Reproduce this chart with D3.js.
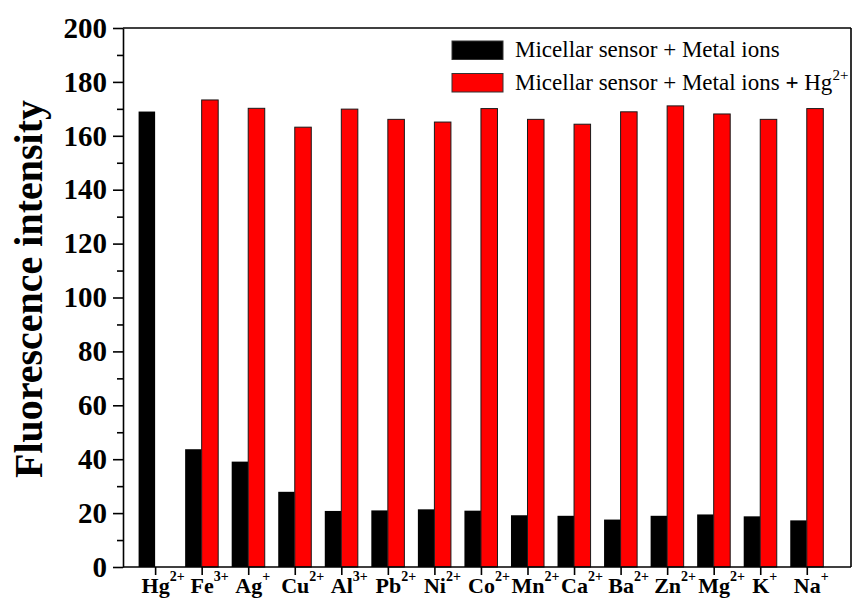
<!DOCTYPE html>
<html>
<head>
<meta charset="utf-8">
<script src="https://cdn.jsdelivr.net/npm/d3@7"></script>
<style>
  body { margin: 0; background: #fff; }
  svg { display: block; font-family: "Liberation Serif", "Times New Roman", serif; }
</style>
</head>
<body>
<div class="canvas"></div>
<script>
const ions = ["Hg", "Fe", "Ag", "Cu", "Al", "Pb", "Ni", "Co", "Mn", "Ca", "Ba", "Zn", "Mg", "K", "Na"];
const charges = ["2+", "3+", "+", "2+", "3+", "2+", "2+", "2+", "2+", "2+", "2+", "2+", "2+", "+", "+"];
const sensorMetal = [169, 43.7, 39.1, 27.9, 20.8, 21.0, 21.4, 20.9, 19.2, 19.0, 17.6, 19.0, 19.5, 18.8, 17.3];
const sensorMetalHg = [null, 173.3, 170.2, 163.2, 169.9, 166.1, 165.1, 170.1, 166.1, 164.3, 168.9, 171.1, 168.1, 166.1, 170.1];
const yTicks = [0, 20, 40, 60, 80, 100, 120, 140, 160, 180, 200];
const seriesNames = ["Micellar sensor + Metal ions", "Micellar sensor + Metal ions"];
const seriesColors = ["#000000", "#ff0000"];

const WIDTH = 852,
  HEIGHT = 601,
  PLOT = { left: 123, right: 851, top: 28, bottom: 567 },
  BAR = 0.355,
  LEGEND = { x: 452, y: 41, swatchW: 51, swatchH: 18.5, row: 32.5 };

let svg, x, y;

document.addEventListener("DOMContentLoaded", function () {
  setSVG();
  setScales();
  drawBars();
  drawAxes();
  drawLegend();
});

function setSVG() {
  svg = d3
    .select(".canvas")
    .append("svg")
    .attr("width", WIDTH)
    .attr("height", HEIGHT);
}

function setScales() {
  x = d3.scaleLinear().domain([0.31, 15.95]).range([PLOT.left, PLOT.right]);
  y = d3.scaleLinear().domain([0, 200]).range([PLOT.bottom, PLOT.top]);
}

function drawBars() {
  const rows = ions.map((ion, i) => ({ pos: i + 1, a: sensorMetal[i], b: sensorMetalHg[i] }));

  svg
    .append("g")
    .selectAll("rect")
    .data(rows)
    .enter()
    .append("rect")
    .attr("x", (d) => x(d.pos - BAR))
    .attr("width", (d) => x(d.pos) - x(d.pos - BAR))
    .attr("y", (d) => y(d.a))
    .attr("height", (d) => y(0) - y(d.a))
    .attr("fill", seriesColors[0]);

  svg
    .append("g")
    .selectAll("rect")
    .data(rows.filter((d) => d.b !== null))
    .enter()
    .append("rect")
    .attr("x", (d) => x(d.pos))
    .attr("width", (d) => x(d.pos + BAR) - x(d.pos))
    .attr("y", (d) => y(d.b))
    .attr("height", (d) => y(0) - y(d.b))
    .attr("fill", seriesColors[1])
    .attr("stroke", "#1a1a1a")
    .attr("stroke-width", 1);
}

function drawAxes() {
  const frame = svg.append("g").attr("fill", "none").attr("stroke", "#000").attr("stroke-width", 1.6);
  frame.append("line").attr("x1", PLOT.left).attr("x2", PLOT.right).attr("y1", PLOT.top).attr("y2", PLOT.top);
  frame.append("line").attr("x1", PLOT.right).attr("x2", PLOT.right).attr("y1", PLOT.top).attr("y2", PLOT.bottom);

  // minor y ticks
  svg
    .append("g")
    .attr("transform", `translate(${PLOT.left},0)`)
    .call(d3.axisLeft(y).tickValues(d3.range(10, 200, 20)).tickSize(6).tickFormat(""))
    .call((g) => g.select(".domain").remove())
    .selectAll("line")
    .attr("stroke-width", 1.6);

  const yAxis = svg
    .append("g")
    .attr("transform", `translate(${PLOT.left},0)`)
    .call(d3.axisLeft(y).tickValues(yTicks).tickSize(10).tickSizeOuter(0).tickPadding(6));
  yAxis.select(".domain").attr("stroke-width", 1.6);
  yAxis.selectAll("line").attr("stroke-width", 1.6);
  yAxis
    .selectAll("text")
    .attr("font-family", "Liberation Serif, serif")
    .attr("font-size", 29)
    .attr("font-weight", "bold")
    .attr("fill", "#000");

  const xAxis = svg
    .append("g")
    .attr("transform", `translate(0,${PLOT.bottom})`)
    .call(d3.axisBottom(x).tickValues(d3.range(1, 16)).tickSize(8).tickSizeOuter(0).tickFormat(""));
  xAxis.select(".domain").attr("stroke-width", 1.6).attr("d", `M${PLOT.left},0H${PLOT.right}`);
  xAxis.selectAll("line").attr("stroke-width", 1.6);

  const labels = svg
    .append("g")
    .selectAll("text")
    .data(ions)
    .enter()
    .append("text")
    .attr("y", 593)
    .attr("font-size", 22)
    .attr("font-weight", "bold");

  labels.append("tspan").attr("class", "base").text((d) => d);
  labels
    .append("tspan")
    .attr("font-size", 14)
    .attr("dy", -12)
    .text((d, i) => charges[i]);

  // centre the element symbol on its tick, charge trails to the right
  labels.each(function (d, i) {
    const w = this.querySelector(".base").getComputedTextLength();
    d3.select(this).attr("x", x(i + 1) + 0.5 - w / 2);
  });

  svg
    .append("text")
    .attr("transform", `translate(42,289) rotate(-90)`)
    .attr("text-anchor", "middle")
    .attr("font-size", 40)
    .attr("font-weight", "bold")
    .text("Fluorescence intensity");
}

function drawLegend() {
  const item = svg
    .append("g")
    .selectAll("g")
    .data(seriesNames)
    .enter()
    .append("g")
    .attr("transform", (d, i) => `translate(${LEGEND.x},${LEGEND.y + i * LEGEND.row})`);

  item
    .append("rect")
    .attr("width", LEGEND.swatchW)
    .attr("height", LEGEND.swatchH)
    .attr("fill", (d, i) => seriesColors[i])
    .attr("stroke", "#333")
    .attr("stroke-width", 1);

  const label = item
    .append("text")
    .attr("x", 63)
    .attr("y", 16)
    .attr("font-size", 23)
    .text((d) => d);

  label
    .filter((d, i) => i === 1)
    .call((t) => {
      t.append("tspan").attr("font-weight", "bold").text(" + ");
      t.append("tspan").text("Hg");
      t.append("tspan").attr("font-size", 15).attr("dy", -10).text("2+");
    });
}
</script>
</body>
</html>
